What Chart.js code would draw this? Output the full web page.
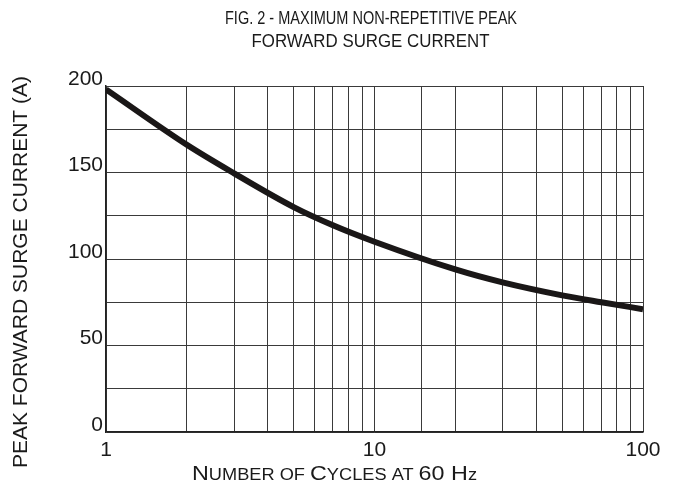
<!DOCTYPE html>
<html>
<head>
<meta charset="utf-8">
<script src="https://cdn.jsdelivr.net/npm/chart.js@4"></script>
<style>
  html, body { margin: 0; padding: 0; background: #fff; }
  #wrap { width: 677px; height: 488px; }
</style>
</head>
<body>
<div id="wrap"><canvas id="surge"></canvas></div>
<script>
// values (cycles at 60 Hz -> peak surge current, A)
const cycles  = [1, 2, 3, 5, 7, 10, 20, 30, 50, 70, 100];
const current = [198, 166, 149.5, 130, 119.5, 110, 94, 86.5, 79, 75, 71];
const xTickLabels = [1, 10, 100];
const titleLines = ['FIG. 2 - MAXIMUM NON-REPETITIVE PEAK', 'FORWARD SURGE CURRENT'];
const yTitle = 'PEAK FORWARD SURGE CURRENT (A)';
// x title pieces: [text, bigLetter?]
const xTitleParts = [['N', 1], ['UMBER OF ', 0], ['C', 1], ['YCLES AT ', 0], ['60 H', 1], ['z', 0]];

const GRID = '#3a3a3a';
const FONT = "'Liberation Sans', Arial, sans-serif";

// draw text squeezed/stretched to a target width
function fitText(ctx, txt, cx, y, w) {
  const m = ctx.measureText(txt).width;
  ctx.save();
  ctx.translate(cx, y);
  ctx.scale(w / m, 1);
  ctx.textAlign = 'center';
  ctx.fillText(txt, 0, 0);
  ctx.restore();
}

const textPlugin = {
  id: 'texts',
  afterDraw(chart) {
    const ctx = chart.ctx;
    ctx.save();
    ctx.fillStyle = '#1a1a1a';
    ctx.textBaseline = 'alphabetic';

    // figure title (condensed face)
    ctx.font = '18px ' + FONT;
    fitText(ctx, titleLines[0], 371, 23.5, 292);
    fitText(ctx, titleLines[1], 370.5, 47, 238);

    // y axis title
    ctx.save();
    ctx.translate(27, 272);
    ctx.rotate(-Math.PI / 2);
    ctx.font = '21px ' + FONT;
    ctx.textAlign = 'center';
    ctx.fillText(yTitle, 0, 0);
    ctx.restore();

    // x axis title with small caps
    const big = '20.5px ' + FONT;
    const small = '16px ' + FONT;
    let total = 0;
    xTitleParts.forEach(p => { ctx.font = p[1] ? big : small; total += ctx.measureText(p[0]).width; });
    const k = 285 / total;
    ctx.save();
    ctx.translate(334.5 - 285 / 2, 480);
    ctx.scale(k, 1);
    ctx.textAlign = 'left';
    let x = 0;
    xTitleParts.forEach(p => {
      ctx.font = p[1] ? big : small;
      ctx.fillText(p[0], x, 0);
      x += ctx.measureText(p[0]).width;
    });
    ctx.restore();
    ctx.restore();
  }
};

new Chart(document.getElementById('surge'), {
  type: 'line',
  data: {
    datasets: [{
      data: cycles.map((c, i) => ({ x: c, y: current[i] })),
      borderColor: '#1a1717',
      borderWidth: 6,
      pointRadius: 0,
      cubicInterpolationMode: 'monotone',
      fill: false
    }]
  },
  options: {
    responsive: true,
    maintainAspectRatio: false,
    animation: false,
    layout: { padding: { left: 0, top: 86, right: 34, bottom: 0 } },
    plugins: { legend: { display: false }, tooltip: { enabled: false }, title: { display: false } },
    scales: {
      x: {
        type: 'logarithmic',
        min: 1,
        max: 100,
        afterFit: s => { s.height = 56; },
        border: { color: '#222', width: 1.5 },
        grid: { color: GRID, lineWidth: 1, drawTicks: false },
        ticks: {
          color: '#1a1a1a',
          padding: 6,
          autoSkip: false,
          maxRotation: 0,
          font: { size: 21, family: FONT },
          callback: v => xTickLabels.some(t => Math.abs(t - v) < 1e-6) ? String(Math.round(v)) : ''
        }
      },
      y: {
        min: 0,
        max: 200,
        afterFit: s => { s.width = 106; },
        border: { color: '#222', width: 1.5 },
        grid: { color: GRID, lineWidth: 1, drawTicks: false },
        ticks: {
          stepSize: 25,
          color: '#1a1a1a',
          padding: 3,
          labelOffset: -7,
          font: { size: 21, family: FONT },
          callback: v => v % 50 === 0 ? String(v) : ''
        }
      }
    }
  },
  plugins: [textPlugin]
});
</script>
</body>
</html>
